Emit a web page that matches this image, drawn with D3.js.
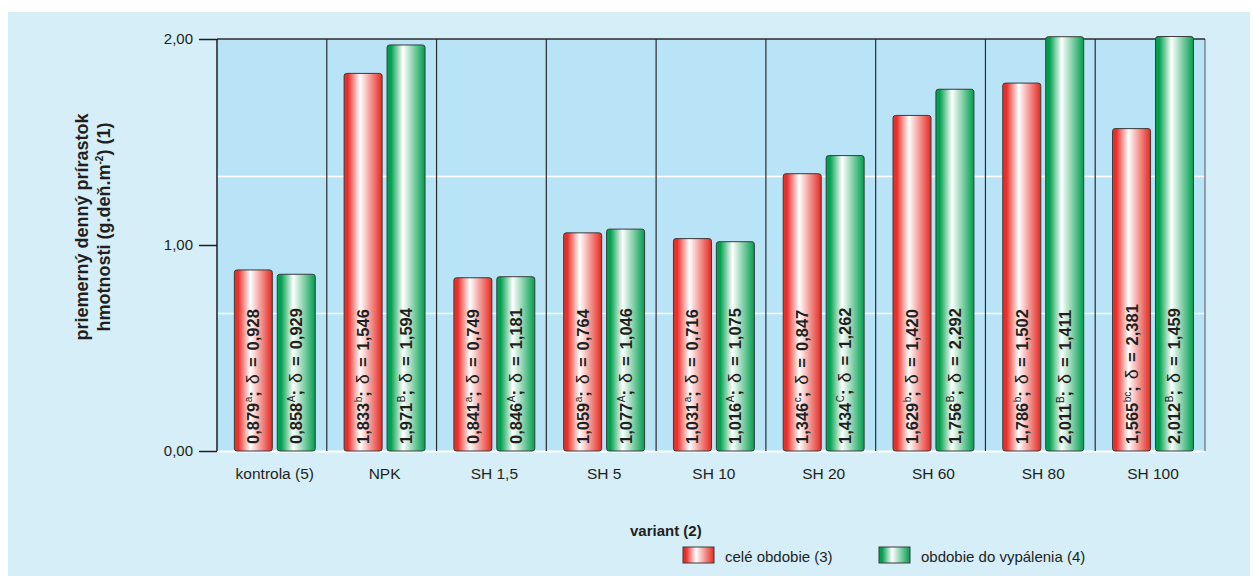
<!DOCTYPE html>
<html>
<head>
<meta charset="utf-8">
<script src="https://cdn.jsdelivr.net/npm/d3@7"></script>
<style>
  html, body { margin: 0; padding: 0; background: #ffffff; }
  svg { display: block; font-family: "Liberation Sans", Arial, Helvetica, sans-serif; }
  text { white-space: pre; }
</style>
</head>
<body>
<svg id="chart" width="1253" height="576"></svg>
<script>
// ---------- data ----------
const categories = ["kontrola (5)", "NPK", "SH 1,5", "SH 5", "SH 10", "SH 20", "SH 60", "SH 80", "SH 100"];
const wholeValues = [0.879, 1.833, 0.841, 1.059, 1.031, 1.346, 1.629, 1.786, 1.565];
const wholeLetters = ["a", "b", "a", "a", "a", "c", "b", "b", "bc"];
const wholeDelta = ["0,928", "1,546", "0,749", "0,764", "0,716", "0,847", "1,420", "1,502", "2,381"];
const burnValues = [0.858, 1.971, 0.846, 1.077, 1.016, 1.434, 1.756, 2.011, 2.012];
const burnLetters = ["A", "B", "A", "A", "A", "C", "B", "B", "B"];
const burnDelta = ["0,929", "1,594", "1,181", "1,046", "1,075", "1,262", "2,292", "1,411", "1,459"];
const yTicks = [0, 1, 2];
const gridValues = [0.667, 1.333];
const seriesNames = ["celé obdobie (3)", "obdobie do vypálenia (4)"];
const xAxisTitle = "variant (2)";
const yTitle1 = "priemerný denný prírastok";
const yTitle2 = "hmotnosti (g.deň.m";

// ---------- layout ----------
const svg = d3.select("#chart");
const plot = { left: 217, right: 1205, top: 39, bottom: 451 };

const x = d3.scaleBand().domain(categories).range([plot.left, plot.right]).padding(0);
const y = d3.scaleLinear().domain([0, 2]).range([plot.bottom, plot.top]);
const bw = x.bandwidth();
const barW = bw * 0.346;
const redOff = bw * 0.158;
const greenOff = bw * 0.549;

// gradients
const defs = svg.append("defs");
function grad(id, edge, edge2) {
  const g = defs.append("linearGradient").attr("id", id).attr("x1", "0%").attr("x2", "100%").attr("y1", "0%").attr("y2", "0%");
  g.append("stop").attr("offset", "0%").attr("stop-color", edge);
  g.append("stop").attr("offset", "10%").attr("stop-color", edge);
  g.append("stop").attr("offset", "42%").attr("stop-color", "#ffffff");
  g.append("stop").attr("offset", "100%").attr("stop-color", edge2);
}
grad("gRed", "#e8302a", "#e5281f");
grad("gGreen", "#00a04e", "#009e4d");

// outer background
svg.append("rect").attr("x", 8).attr("y", 12).attr("width", 1242).attr("height", 564).attr("fill", "#d5eef8");
// plot background
svg.append("rect").attr("x", plot.left).attr("y", plot.top)
  .attr("width", plot.right - plot.left).attr("height", plot.bottom - plot.top).attr("fill", "#b9e4f8");

// white gridlines
svg.selectAll("line.grid").data(gridValues).join("line")
  .attr("class", "grid")
  .attr("x1", plot.left).attr("x2", plot.right)
  .attr("y1", d => y(d)).attr("y2", d => y(d))
  .attr("stroke", "#ffffff").attr("stroke-width", 1.5);
// bottom white line
svg.append("line").attr("x1", plot.left).attr("x2", plot.right)
  .attr("y1", y(0) + 0.5).attr("y2", y(0) + 0.5).attr("stroke", "#ffffff").attr("stroke-width", 2);

// category separators
svg.selectAll("line.sep").data(categories.slice(1)).join("line")
  .attr("class", "sep")
  .attr("x1", d => x(d)).attr("x2", d => x(d))
  .attr("y1", plot.top).attr("y2", plot.bottom)
  .attr("stroke", "#2b2b2b").attr("stroke-width", 1.2);
// right border
svg.append("line").attr("x1", plot.right).attr("x2", plot.right).attr("y1", plot.top).attr("y2", plot.bottom)
  .attr("stroke", "#555").attr("stroke-width", 1);
// top border
svg.append("line").attr("x1", plot.left).attr("x2", plot.right).attr("y1", plot.top).attr("y2", plot.top)
  .attr("stroke", "#2b2b2b").attr("stroke-width", 1.5);
// left axis line
svg.append("line").attr("x1", plot.left).attr("x2", plot.left).attr("y1", plot.top).attr("y2", plot.bottom)
  .attr("stroke", "#1f1f1f").attr("stroke-width", 1.5);

// y axis
const yAxis = d3.axisLeft(y).tickValues(yTicks).tickSize(18).tickPadding(6)
  .tickFormat(d => d.toFixed(2).replace(".", ","));
const ya = svg.append("g").attr("transform", `translate(${plot.left},0)`).call(yAxis);
ya.select(".domain").remove();
ya.selectAll(".tick line").attr("stroke", "#1f1f1f").attr("stroke-width", 1.5);
ya.selectAll(".tick text").attr("font-size", 15).attr("fill", "#231f20")
  .attr("font-family", "'Liberation Sans', Arial, sans-serif");

// bars
function fmt(v) { return v.toFixed(3).replace(".", ","); }
const series = [
  { vals: wholeValues, letters: wholeLetters, delta: wholeDelta, off: redOff, fill: "url(#gRed)" },
  { vals: burnValues, letters: burnLetters, delta: burnDelta, off: greenOff, fill: "url(#gGreen)" }
];
series.forEach(s => {
  const g = svg.append("g");
  g.selectAll("rect").data(categories).join("rect")
    .attr("x", (c) => x(c) + s.off)
    .attr("y", (c, i) => y(s.vals[i]))
    .attr("width", barW)
    .attr("height", (c, i) => y(0) - y(s.vals[i]))
    .attr("rx", 2.5)
    .attr("fill", s.fill)
    .attr("stroke", "#3a3a3a").attr("stroke-width", 1);

  categories.forEach((c, i) => {
    const cx = x(c) + s.off + barW / 2;
    const t = g.append("text")
      .attr("transform", `translate(${cx + 6},${y(0) - 7}) rotate(-90)`)
      .attr("font-size", 16.5).attr("fill", "#231f20").attr("text-anchor", "start");
    t.append("tspan").attr("font-weight", "bold").text(fmt(s.vals[i]));
    t.append("tspan").attr("font-size", 10).attr("dy", -7).attr("dx", 0.5).text(s.letters[i]);
    t.append("tspan").attr("dy", 7).attr("font-weight", "bold").text(";");
    t.append("tspan").attr("dx", 7).attr("font-size", 18).attr("font-weight", "normal").text("δ");
    t.append("tspan").attr("dx", 7).attr("font-weight", "bold").text("=");
    t.append("tspan").attr("dx", 7).attr("font-weight", "bold").text(s.delta[i]);
  });
});

// category labels
svg.selectAll("text.cat").data(categories).join("text")
  .attr("class", "cat")
  .attr("x", c => x(c) + (redOff + greenOff + barW) / 2)
  .attr("y", 479)
  .attr("text-anchor", "middle")
  .attr("font-size", 15.5).attr("fill", "#231f20")
  .text(c => c);

// y title
const yt = svg.append("text")
  .attr("transform", `translate(88,227) rotate(-90)`)
  .attr("text-anchor", "middle").attr("font-size", 18).attr("font-weight", "bold").attr("fill", "#231f20");
yt.append("tspan").attr("x", 0).attr("y", 0).text(yTitle1);
yt.append("tspan").attr("x", 0).attr("y", 22).text(yTitle2);
yt.append("tspan").attr("font-size", 10).attr("dy", -7).text("-2");
yt.append("tspan").attr("dy", 7).text(") (1)");

// x title
svg.append("text").attr("x", 630).attr("y", 536).attr("font-size", 15).attr("font-weight", "bold")
  .attr("fill", "#231f20").text(xAxisTitle);

// legend
const legendItems = [
  { name: seriesNames[0], fill: "url(#gRed)", x: 683 },
  { name: seriesNames[1], fill: "url(#gGreen)", x: 879 }
];
const lg = svg.append("g");
legendItems.forEach(it => {
  lg.append("rect").attr("x", it.x).attr("y", 547).attr("width", 31).attr("height", 16)
    .attr("fill", it.fill).attr("stroke", "#3a3a3a").attr("stroke-width", 1);
  lg.append("text").attr("x", it.x + 42).attr("y", 562).attr("font-size", 15).attr("fill", "#231f20").text(it.name);
});
</script>
</body>
</html>
